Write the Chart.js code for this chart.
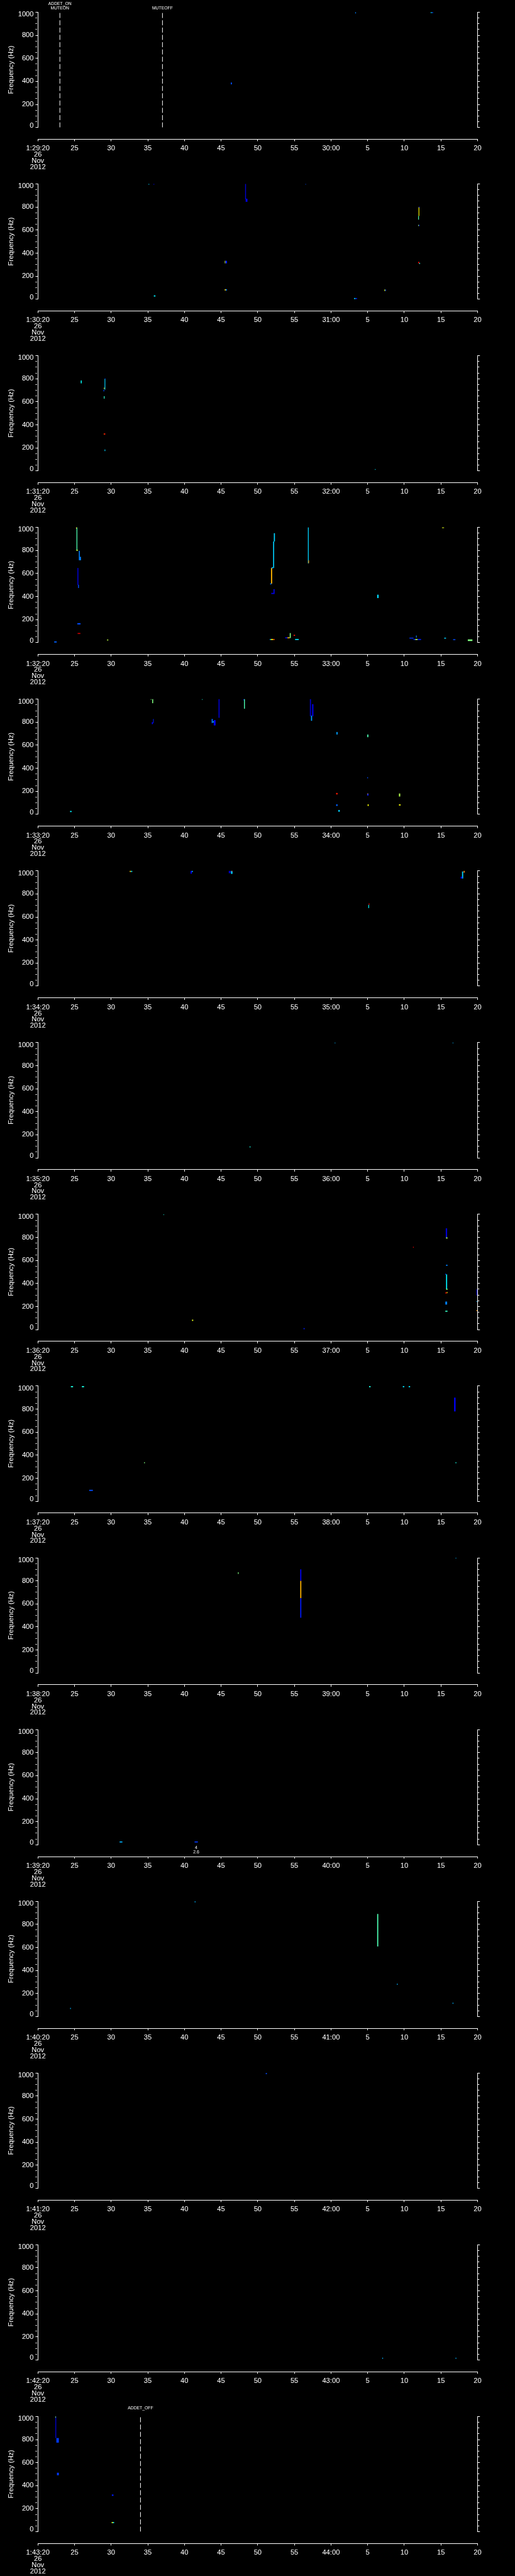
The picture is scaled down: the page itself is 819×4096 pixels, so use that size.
<!DOCTYPE html>
<html><head><meta charset="utf-8">
<script src="https://cdn.jsdelivr.net/npm/chart.js@4.4.1/dist/chart.umd.min.js"></script>
<style>
html,body{margin:0;padding:0;background:#000;}
#wrap{position:relative;width:819px;height:4096px;overflow:hidden;background:#000;}
canvas{position:absolute;left:0;background:transparent;}
</style></head><body><div id="wrap"></div>
<script>
// ---------------- DATA ----------------
const panelStart = ['1:29:20','1:30:20','1:31:20','1:32:20','1:33:20','1:34:20','1:35:20','1:36:20',
                    '1:37:20','1:38:20','1:39:20','1:40:20','1:41:20','1:42:20','1:43:20'];
const dateLines = ['26','Nov','2012'];
const xTickSecs = [0,5,10,15,20,25,30,35,40,45,50,55,60];
const yTickHz = [0,200,400,600,800,1000];
const yAxisTitle = 'Frequency (Hz)';

// events: panel index, second within panel, label rows
const eventPanel = [0, 0, 14];
const eventSec   = [3, 17, 14];
const eventText  = [['ADDET_ON','MUTEON'], ['','MUTEOFF'], ['ADDET_OFF','']];

// note below a detection
const notePanel = [10];
const noteSec = [21.6];
const noteText = [['4','2.6']];

// spectrogram cells: [t0 (s), t1 (s), f0 (Hz), f1 (Hz), level 0..1]
const cellsP01 = [[26.32,26.48,374,390,0.2],[43.3,43.41,990,1000,0.25],[53.6,53.75,993,1000,0.36],[53.75,53.94,993,1000,0.2]];
const cellsP02 = [[15.08,15.2,996,1000,0.33],[15.77,15.88,995,1000,0.12],[15.82,16.04,23,33,0.36],
  [28.28,28.4,867,1000,0.08],[28.35,28.6,845,872,0.1],[25.5,25.6,311,333,0.58],[25.6,25.81,311,333,0.15],
  [25.5,25.65,75,87,0.66],[25.65,25.8,75,87,0.25],[36.5,36.55,995,1000,0.2],[51.95,52.05,722,800,0.63],[52.0,52.12,795,802,0.15],
  [51.9,52.0,690,722,0.45],[51.9,52.0,635,645,0.55],[52.0,52.1,635,645,0.15],[51.9,52.05,311,324,0.88],[52.05,52.15,305,315,0.4],
  [47.28,47.4,71,84,0.6],[47.4,47.5,71,84,0.2],[43.14,43.35,1,10,0.33],[43.35,43.55,1,10,0.15]];
const cellsP03 = [[5.85,5.98,760,785,0.38],[9.1,9.2,705,800,0.33],[9.15,9.2,798,803,0.12],[9.0,9.1,712,722,0.62],
  [8.95,9.05,690,705,0.2],[9.0,9.1,627,649,0.42],[9.0,9.1,314,326,0.8],[9.1,9.2,314,326,0.88],[9.1,9.2,172,186,0.33],[46.0,46.07,9,16,0.35]];
const cellsP04 = [[5.27,5.38,800,1000,0.45],[5.2,5.3,990,1000,0.68],[5.25,5.45,797,806,0.58],[5.59,5.72,715,797,0.25],
  [5.72,5.88,715,745,0.25],[5.4,5.52,500,648,0.1],[5.48,5.6,474,502,0.2],[5.38,5.82,158,169,0.2],[5.42,5.8,75,84,0.93],
  [2.22,2.57,1,11,0.22],[9.43,9.61,19,27,0.56],[31.81,31.97,512,648,0.7],[31.7,31.85,505,515,0.25],
  [32.1,32.24,648,878,0.33],[31.9,32.1,645,655,0.3],[32.2,32.35,878,950,0.33],[32.15,32.3,422,464,0.1],[31.85,32.15,422,432,0.1],
  [36.85,36.96,688,1000,0.33],[36.9,37.0,690,714,0.72],[46.3,46.5,387,416,0.34],
  [31.65,31.8,23,32,0.3],[31.8,32.1,23,32,0.62],[32.1,32.3,23,32,0.8],
  [33.75,34.05,38,46,0.12],[34.05,34.37,38,46,0.68],[34.37,34.51,40,83,0.5],[34.9,35.1,59,68,0.85],[35.1,35.6,23,32,0.35],
  [50.7,51.26,36,43,0.18],[51.26,51.49,23,32,0.15],[51.49,51.83,23,32,0.55],[51.83,52.29,23,32,0.15],[51.6,51.7,44,62,0.25],
  [55.15,55.43,995,1000,0.6],[55.45,55.7,35,43,0.33],[56.66,56.98,22,30,0.2],[58.67,59.3,14,28,0.5]];
const cellsP05 = [[4.39,4.6,20,30,0.36],[15.6,15.73,965,1000,0.5],[15.4,15.5,995,1000,0.5],[15.72,15.8,793,828,0.15],
  [15.55,15.7,783,800,0.12],[22.39,22.45,995,1000,0.4],[24.65,24.8,838,1000,0.07],[23.71,23.87,793,828,0.23],
  [23.87,24.0,798,808,0.36],[24.0,24.25,772,818,0.12],[28.04,28.13,990,1000,0.1],[28.13,28.25,917,1000,0.45],
  [37.12,37.27,852,1000,0.07],[37.27,37.42,812,857,0.28],[37.42,37.6,852,957,0.1],[40.74,40.9,693,715,0.28],
  [44.95,45.1,670,693,0.45],[44.95,45.05,313,323,0.2],[40.7,40.9,173,186,0.85],[44.95,45.12,163,181,0.15],
  [44.95,45.05,175,181,0.7],[49.27,49.45,155,181,0.55],[40.7,40.9,73,87,0.22],[45.0,45.15,73,87,0.62],
  [49.27,49.5,77,87,0.62],[41.0,41.2,23,38,0.33]];
const cellsP06 = [[12.53,12.7,991,1000,0.66],[12.7,12.88,991,1000,0.35],[20.83,21.0,975,1000,0.1],[21.0,21.15,990,1000,0.3],
  [26.05,26.3,980,1000,0.08],[26.35,26.56,974,1000,0.33],[26.45,26.56,995,1000,0.85],[45.1,45.2,677,705,0.37],
  [45.15,45.25,705,718,0.9],[57.88,58.04,934,995,0.33],[57.7,57.92,934,950,0.12],[58.1,58.25,985,1000,0.75]];
const cellsP07 = [[40.5,40.6,995,1000,0.3],[56.6,56.7,995,1000,0.3],[28.9,29.0,90,100,0.4]];
const cellsP08 = [[17.13,17.2,995,1000,0.4],[55.66,55.85,796,879,0.08],[55.7,55.9,790,800,0.55],[51.19,51.3,710,719,0.93],
  [55.7,55.9,553,563,0.25],[55.7,55.85,351,479,0.36],[55.6,55.7,475,485,0.2],[55.72,55.9,345,355,0.5],
  [55.6,55.8,313,324,0.92],[55.8,55.9,316,326,0.62],[55.6,55.85,217,243,0.25],[55.6,55.9,155,164,0.43],
  [21.03,21.2,75,86,0.6],[36.26,36.4,3,13,0.15],[59.85,59.95,296,349,0.08],[59.85,59.95,240,247,0.3],[59.85,59.95,160,170,0.72]];
const cellsP09 = [[4.5,4.8,990,1000,0.4],[6.0,6.3,990,1000,0.4],[45.2,45.4,990,1000,0.4],[49.8,50.0,990,1000,0.35],
  [50.6,50.8,990,1000,0.35],[56.8,57.0,780,900,0.12],[14.5,14.6,330,340,0.5],[7.0,7.5,90,100,0.2],[57.0,57.1,330,340,0.4]];
const cellsP10 = [[27.3,27.4,860,875,0.5],[35.8,35.95,800,900,0.12],[35.8,35.95,650,800,0.7],[35.8,35.95,480,650,0.15],
  [57.0,57.1,995,1000,0.3]];
const cellsP11 = [[11.15,11.53,20,29,0.3],[21.38,21.83,20,29,0.18]];
const cellsP12 = [[21.4,21.5,990,1000,0.3],[46.3,46.45,608,890,0.45],[49.0,49.1,275,285,0.3],[56.6,56.7,110,120,0.3],[4.4,4.5,65,75,0.3]];
const cellsP13 = [[31.1,31.25,990,1000,0.2]];
const cellsP14 = [[47.0,47.1,10,20,0.3],[57.0,57.1,10,20,0.3]];
const cellsP15 = [[2.38,2.5,813,1000,0.07],[2.38,2.45,990,1000,0.5],[2.52,2.86,773,813,0.18],[2.6,2.86,490,512,0.18],
  [10.09,10.32,311,323,0.15],[10.07,10.25,74,84,0.6],[10.25,10.4,74,84,0.36]];
const panelCells = [cellsP01,cellsP02,cellsP03,cellsP04,cellsP05,cellsP06,cellsP07,cellsP08,
                    cellsP09,cellsP10,cellsP11,cellsP12,cellsP13,cellsP14,cellsP15];

// ---------------- LAYOUT (full-size reference px, scaled by S) ----------------
const S = 0.8;
const PANEL_H = 5120 / 15 * S;
const PLOT_L = 75.33 * S, PLOT_R = 949.3 * S, PLOT_T = 24.3 * S, PLOT_B = 253.3 * S, XAXIS_Y = 276.7 * S;
const W = 819, CH = 275;
const FONT = "'Liberation Sans', Arial, sans-serif";
Chart.defaults.font.family = FONT;
Chart.defaults.color = '#fff';

function jet(v) {
  const c = x => Math.round(255 * Math.max(0, Math.min(1, x)));
  return `rgb(${c(1.5 - Math.abs(4*v - 3))},${c(1.5 - Math.abs(4*v - 2))},${c(1.5 - Math.abs(4*v - 1))})`;
}
function parseHMS(s) { const p = s.split(':').map(Number); return p[0]*3600 + p[1]*60 + p[2]; }
function xLabel(start, v) {
  if (v === 0) return [start].concat(dateLines);
  const tot = parseHMS(start) + v;
  const sec = tot % 60;
  if (sec === 0) return (Math.floor(tot / 60) % 60) + ':00';
  return String(sec);
}

const cellPlugin = {
  id: 'cells',
  afterDatasetsDraw(chart, args, opts) {
    const { ctx, scales: { x, y } } = chart;
    ctx.save();
    opts.data.forEach(([t0, t1, f0, f1, v]) => {
      const px0 = x.getPixelForValue(t0), px1 = x.getPixelForValue(t1);
      const py0 = y.getPixelForValue(f1), py1 = y.getPixelForValue(f0);
      ctx.fillStyle = jet(v);
      ctx.fillRect(px0, py0, Math.max(px1 - px0, 1), Math.max(py1 - py0, 1));
    });
    ctx.restore();
  }
};
const textPlugin = {
  id: 'texts',
  afterDraw(chart, args, opts) {
    const { ctx, scales: { x } } = chart;
    ctx.save();
    ctx.fillStyle = '#fff';
    ctx.textAlign = 'center';
    ctx.textBaseline = 'middle';
    ctx.font = `${6.8}px ${FONT}`;
    opts.items.forEach(it => {
      const px = x.getPixelForValue(it.t);
      it.rows.forEach((r, j) => { if (r) ctx.fillText(r, px, it.y0 + j * it.dy); });
    });
    ctx.restore();
  }
};

const wrap = document.getElementById('wrap');
for (let i = 0; i < 15; i++) {
  const top = i * PANEL_H;
  const ct = Math.floor(top);
  const off = top - ct;

  // ---- plot chart (y axes, cells, events)
  const cA = document.createElement('canvas');
  cA.width = W; cA.height = CH; cA.style.top = ct + 'px';
  wrap.appendChild(cA);
  const evDatasets = [];
  const textItems = [];
  eventPanel.forEach((p, k) => {
    if (p !== i) return;
    evDatasets.push({
      type: 'scatter', showLine: true,
      data: [{ x: eventSec[k], y: 0 }, { x: eventSec[k], y: 1000 }],
      borderColor: '#fff', borderWidth: 1, borderDash: [8, 3.6], pointRadius: 0
    });
    textItems.push({ t: eventSec[k], rows: eventText[k], y0: 7.3 * S + off, dy: 9.4 * S });
  });
  notePanel.forEach((p, k) => {
    if (p !== i) return;
    textItems.push({ t: noteSec[k], rows: noteText[k], y0: 259 * S + off, dy: 8.7 * S });
  });
  const gridOpts = {
    drawOnChartArea: false, drawTicks: true, tickLength: 3.8, color: '#fff', tickColor: '#fff', tickWidth: 1,
    tickBorderDash: ctx => (ctx.tick && ctx.tick.value % 200 === 0) ? [] : [2.3, 30]
  };
  new Chart(cA, {
    type: 'scatter',
    data: { datasets: evDatasets },
    options: {
      responsive: false, animation: false, events: [],
      layout: { padding: { left: 0, right: 0, top: PLOT_T + off, bottom: CH - (PLOT_B + off) } },
      plugins: {
        legend: { display: false }, tooltip: { enabled: false },
        cells: { data: panelCells[i] },
        texts: { items: textItems }
      },
      scales: {
        x: { type: 'linear', min: 0, max: 60, display: false },
        y: {
          type: 'linear', position: 'left', min: 0, max: 1000,
          afterFit: s => { s.width = PLOT_L; },
          border: { display: true, color: '#fff', width: 1 },
          grid: gridOpts,
          title: { display: true, text: yAxisTitle, color: '#fff', font: { size: 11.2, lineHeight: 1.2 }, padding: { top: 10.9, bottom: 0 } },
          ticks: {
            stepSize: 50, autoSkip: false, color: '#fff', padding: 2.9,
            font: ctx => ({ size: 11.2, lineHeight: (ctx.tick && ctx.tick.value === 1000) ? '7.5px' : (ctx.tick && ctx.tick.value === 0) ? '6.4px' : 1.2 }),
            callback: v => {
              if (!yTickHz.includes(v)) return '';
              if (v === 1000) return ['', String(v)];
              if (v === 0) return [String(v), ''];
              return String(v);
            }
          }
        },
        y2: {
          type: 'linear', position: 'right', min: 0, max: 1000,
          afterFit: s => { s.width = W - PLOT_R; },
          border: { display: true, color: '#fff', width: 1 },
          grid: gridOpts,
          ticks: { stepSize: 50, autoSkip: false, display: false }
        }
      }
    },
    plugins: [cellPlugin, textPlugin]
  });

  // ---- time axis chart
  const cB = document.createElement('canvas');
  cB.width = W; cB.height = CH; cB.style.top = ct + 'px';
  wrap.appendChild(cB);
  const start = panelStart[i];
  new Chart(cB, {
    type: 'scatter',
    data: { datasets: [] },
    options: {
      responsive: false, animation: false, events: [],
      layout: { padding: { left: PLOT_L, right: W - PLOT_R, top: 200 + off, bottom: 0 } },
      plugins: { legend: { display: false }, tooltip: { enabled: false } },
      scales: {
        x: {
          type: 'linear', position: 'bottom', min: 0, max: 60,
          afterBuildTicks: s => { s.ticks = xTickSecs.map(v => ({ value: v })); },
          afterFit: s => { s.height = CH - (XAXIS_Y + off); },
          border: { display: true, color: '#fff', width: 1 },
          grid: { drawOnChartArea: false, drawTicks: true, tickLength: 3.2, tickColor: '#fff', color: '#fff' },
          ticks: {
            autoSkip: false, maxRotation: 0, minRotation: 0, padding: 6.8, color: '#fff',
            font: { size: 11.2, lineHeight: '9.84px' },
            callback: v => xLabel(start, v)
          }
        },
        y: { display: false, min: 0, max: 1 }
      }
    }
  });
}
</script>
</body></html>
